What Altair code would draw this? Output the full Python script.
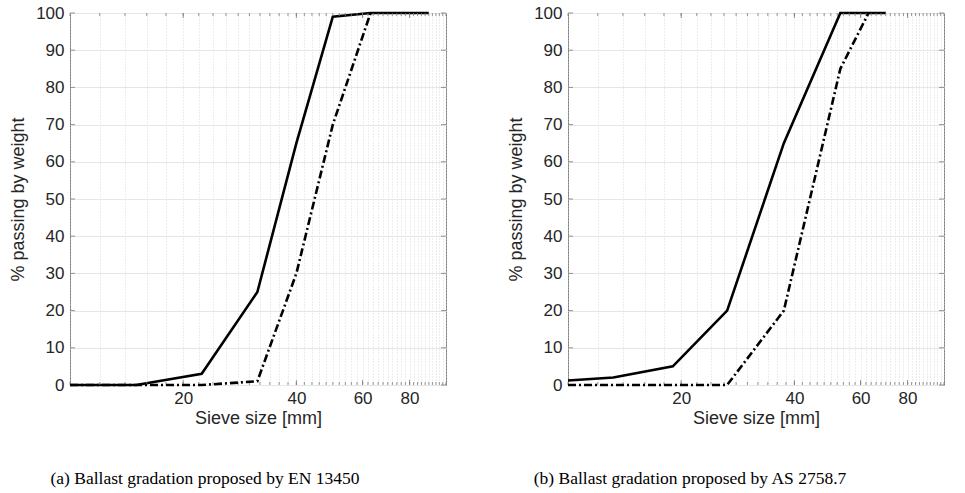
import altair as alt
import pandas as pd

# EN 13450 grading envelope (sieve size in mm, % passing)
en_upper_size = [10, 15, 22.4, 31.5, 40, 50, 63, 90]
en_upper_pass = [0, 0, 3, 25, 65, 99, 100, 100]
en_lower_size = [10, 22.4, 31.5, 40, 50, 63]
en_lower_pass = [0, 0, 1, 30, 70, 100]

# AS 2758.7 grading envelope
as_upper_size = [10, 13.2, 19, 26.5, 37.5, 53, 70]
as_upper_pass = [1.2, 2, 5, 20, 65, 100, 100]
as_lower_size = [10, 26.5, 37.5, 53, 63]
as_lower_pass = [0, 0, 20, 85, 100]

# axis values
x_minor = list(range(10, 101, 2))
x_labelled = [20, 40, 60, 80]
y_ticks = list(range(0, 101, 10))

W, H = 376, 372
AXIS_FONT = "Liberation Sans"
TEXT = "#262626"
FRAME = "#7a7a7a"

x_scale = alt.Scale(type="log", domain=[10, 100], nice=False)
y_scale = alt.Scale(domain=[0, 100], nice=False)

x_axis = alt.Axis(
    values=x_minor,
    format="d",
    labelExpr="indexof([20,40,60,80], datum.value) >= 0 ? datum.label : ''",
    labelOverlap=False,
    grid=True,
    gridDash=[1, 2],
    gridColor="#d0d0d0",
    gridWidth=0.8,
    ticks=False,
    domain=False,
    labelFontSize=17,
    labelFont=AXIS_FONT,
    labelColor=TEXT,
    labelPadding=5,
    labelFlush=False,
    title="Sieve size [mm]",
    titleFont=AXIS_FONT,
    titleFontSize=18,
    titleFontWeight="normal",
    titleColor=TEXT,
    titlePadding=3,
)
y_axis = alt.Axis(
    values=y_ticks,
    labelOverlap=False,
    grid=True,
    gridColor="#e6e6e6",
    gridWidth=1,
    ticks=False,
    domain=False,
    labelFontSize=17,
    labelFont=AXIS_FONT,
    labelColor=TEXT,
    labelPadding=6,
    title="% passing by weight",
    titleFont=AXIS_FONT,
    titleFontSize=18,
    titleFontWeight="normal",
    titleColor=TEXT,
    titlePadding=8,
)


def xenc(field):
    return alt.X(field, scale=x_scale, axis=x_axis)


def yenc(field):
    return alt.Y(field, scale=y_scale, axis=y_axis)


def panel(up_x, up_y, lo_x, lo_y, caption, dx):
    upper = pd.DataFrame({"size": up_x, "passing": up_y})
    lower = pd.DataFrame({"size": lo_x, "passing": lo_y})
    xt = pd.DataFrame({"v": x_minor})
    xl = pd.DataFrame({"v": x_labelled})
    yt = pd.DataFrame({"v": y_ticks})

    upper_line = alt.Chart(upper).mark_line(color="black", strokeWidth=2.6).encode(
        x=xenc("size:Q"), y=yenc("passing:Q")
    )
    lower_line = alt.Chart(lower).mark_line(
        color="black", strokeWidth=2.6, strokeDash=[8, 3, 2, 3]
    ).encode(x=xenc("size:Q"), y=yenc("passing:Q"))

    # inward ticks along the frame
    def xticks(df, y0, y1):
        return alt.Chart(df).mark_rule(color=FRAME, strokeWidth=0.8).encode(
            x=xenc("v:Q"), y=alt.value(y0), y2=alt.value(y1)
        )

    def yticks(x0, x1):
        return alt.Chart(yt).mark_rule(color=FRAME, strokeWidth=0.8).encode(
            y=yenc("v:Q"), x=alt.value(x0), x2=alt.value(x1)
        )

    return alt.layer(
        upper_line,
        xticks(xt, H, H - 3), xticks(xt, 0, 3),
        xticks(xl, H, H - 5), xticks(xl, 0, 5),
        yticks(0, 5), yticks(W, W - 5),
        lower_line,
    ).properties(
        width=W,
        height=H,
        title=alt.TitleParams(
            caption,
            orient="bottom",
            anchor="middle",
            font="Liberation Serif",
            fontSize=17.5,
            fontWeight="normal",
            color="black",
            offset=43,
            dx=dx,
        ),
    )


left = panel(en_upper_size, en_upper_pass, en_lower_size, en_lower_pass,
             "(a)  Ballast gradation proposed by EN 13450", -53)
right = panel(as_upper_size, as_upper_pass, as_lower_size, as_lower_pass,
              "(b)  Ballast gradation proposed by AS 2758.7", -66)

chart = alt.hconcat(left, right, spacing=60).properties(
    padding={"left": 9, "top": 3, "right": 0, "bottom": 0},
    background="white",
).configure_view(stroke=FRAME, strokeWidth=1)

chart.save("out.html", embed_options={"renderer": "svg", "actions": False})
